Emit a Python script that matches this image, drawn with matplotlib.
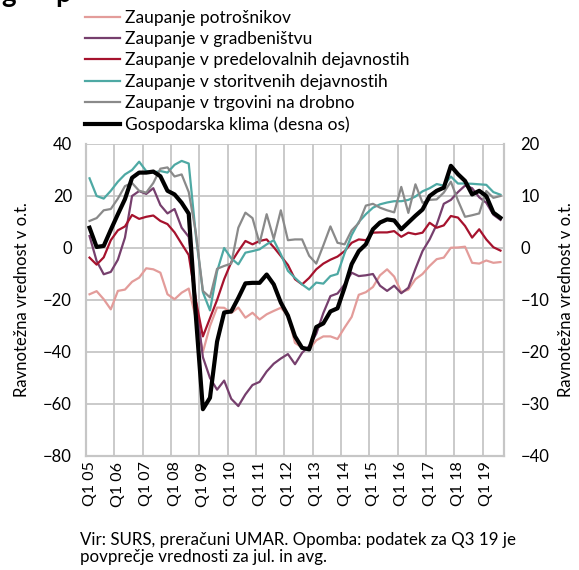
import numpy as np
import matplotlib
matplotlib.use("Agg")
import matplotlib.pyplot as plt

plt.rcParams['font.family'] = ['Lato', 'DejaVu Sans']

# quarterly data Q1 05 .. Q3 19
years = ["05", "06", "07", "08", "09", "10", "11", "12", "13", "14", "15", "16", "17", "18", "19"]
quarters = ["Q%d %s" % (q, y) for y in years for q in (1, 2, 3, 4)][:59]

potrosniki = [-17.8, -16.6, -19.7, -23.6, -16.5, -16, -13, -11.4, -7.8, -8.2,
              -9.5, -17.8, -19.7, -17.2, -15.6, -27, -40, -30, -22.9, -23,
              -25, -22.9, -26.8, -24.9, -27.5, -25.5, -24.2, -23, -26, -36.5,
              -38.3, -39, -35.5, -34, -34, -35, -30.6, -26.5, -18, -17,
              -15, -10.5, -8.2, -11, -17, -16, -12, -10, -6.9, -4.3,
              -3.7, 0.1, 0.2, 0.5, -5.7, -6, -4.8, -5.7, -5.4]
gradbenistvo = [4.6, -5, -10.1, -9.2, -4.5, 4, 20, 21.9, 20.8, 23,
                16.5, 13.3, 15, 7.8, 4.3, -20, -42, -50, -54.5, -51,
                -58, -60.8, -56.3, -52.7, -51.5, -47.5, -44.5, -42.5, -40.8, -44.7,
                -40.3, -37.7, -33, -25, -18.5, -17.5, -14, -9.5, -10.8, -10.5,
                -10, -14.5, -16.5, -14.5, -17.4, -15.3, -8, -1.2, 3.3, 9,
                17, 18.5, 21.5, 24, 23, 19.5, 17.4, 12.8, 10.8]
predelovalne = [-3.7, -6.4, -3.6, 3, 6.8, 8.3, 12.7, 11.2, 12, 12.5,
                10.4, 9.2, 6, 1.6, -2.7, -20, -34, -27, -20, -12,
                -5.5, -1.2, 2.7, 1.4, 2.7, 3.3, 0.3, -3.1, -6.5, -12,
                -14, -11.5, -8.2, -6, -4.5, -3.3, -1.2, 2, 3.3, 3,
                5.9, 6, 6, 6.5, 4.3, 5.9, 5.3, 5.9, 9.7, 7.8,
                8.7, 12.3, 11.7, 8.5, 4, 7.2, 3.3, 0.3, -1]
storitve = [26.8, 20, 19, 22, 25.5, 28.3, 30, 33.2, 29.6, 29,
            29.6, 29, 32, 33.5, 32.5, 5, -17, -24, -9, 0,
            -4, -6.3, -1.8, -1.2, -0.5, 1.4, 3, -2.4, -8.8, -11.5,
            -14, -16, -13.3, -13.7, -10.8, -10, -2, 5, 10, 13,
            15.5, 16.8, 17.5, 18, 18, 18.5, 19.8, 21.8, 23, 24.6,
            24, 27.5, 24.8, 24.8, 24.7, 24.5, 24.3, 21.5, 20.5]
trgovina = [10.4, 11.5, 14.5, 15, 19, 23.8, 25, 22, 21.3, 25,
            30.5, 31, 27.5, 28.3, 21.5, 6, -16.5, -19, -8, -6.9,
            -6, 7.8, 13.6, 11.5, 1.8, 13, 3.5, 14.5, 3, 3.3,
            3.3, -3, -6, 1, 8.3, 2, 1.4, 6.8, 9.6, 16.3,
            17, 15.5, 14.5, 13.7, 23.5, 13.5, 24.5, 17.4, 18.5, 18.7,
            21.3, 25.5, 18.3, 12, 12.6, 13.3, 21.9, 19.3, 20]
klima = [3.9, 0.2, 0.4, 3.5, 6.5, 9.4, 13.5, 14.5, 14.5, 14.7,
         13.8, 11, 10.3, 8.7, 6.6, -13, -31, -28.8, -18, -12.4,
         -12.2, -9.6, -6.8, -6.7, -6.7, -5.1, -7, -10.5, -13, -17,
         -19.2, -19.5, -15.2, -14.5, -12.2, -11.6, -7.6, -3.1, -0.6, 0.7,
         3.6, 4.9, 5.5, 5.3, 3.6, 4.9, 6.2, 7.4, 10, 11,
         11.6, 15.8, 14.2, 12.9, 10.3, 11, 10, 6.8, 5.8]

left_series = [
    ("Zaupanje potrošnikov", potrosniki, "#e39c9a"),
    ("Zaupanje v gradbeništvu", gradbenistvo, "#763f6d"),
    ("Zaupanje v predelovalnih dejavnostih", predelovalne, "#a6122d"),
    ("Zaupanje v storitvenih dejavnostih", storitve, "#4ea9a4"),
    ("Zaupanje v trgovini na drobno", trgovina, "#8a8a8a"),
]

x = np.arange(len(quarters)) + 0.5
grid_c = "#c6c6c6"

fig = plt.figure(figsize=(5.79, 5.70), dpi=100)
ax = fig.add_axes([86 / 579, 1 - 456 / 570, 418 / 579, 312 / 570])
ax2 = ax.twinx()

handles = []
for name, vals, col in left_series:
    h, = ax.plot(x, vals, color=col, lw=1.6, label=name)
    handles.append(h)
hk, = ax2.plot(x, klima, color="black", lw=3.0, label="Gospodarska klima (desna os)")
handles.append(hk)

ax.set_xlim(0, len(quarters))
ax.set_ylim(-80, 40)
ax2.set_ylim(-40, 20)
ax.set_yticks(np.arange(-80, 41, 20))
ax2.set_yticks(np.arange(-40, 21, 10))

# year gridlines between categories, labels on Q1
ax.set_xticks(np.arange(0, len(quarters) + 1, 4), minor=True)
ax.set_xticks(x[::4])
ax.set_xticklabels(quarters[::4], rotation=90, fontsize=11.5)
ax.grid(True, which="minor", axis="x", color=grid_c, lw=1.3)
ax.grid(True, which="major", axis="y", color=grid_c, lw=1.3)
ax.set_axisbelow(True)
ax.tick_params(axis="x", which="both", length=0, pad=4)
ax.tick_params(axis="y", length=0, pad=10, labelsize=12)
ax2.tick_params(axis="y", length=0, pad=12, labelsize=12)

for a in (ax, ax2):
    for s in a.spines.values():
        s.set_color(grid_c)
        s.set_linewidth(1.5)
    a.spines["top"].set_visible(False)

fig.text(22 / 579, 1 - 300 / 570, "Ravnotežna vrednost v o.t.", rotation=90,
         ha="center", va="center", fontsize=12)
fig.text(566 / 579, 1 - 300 / 570, "Ravnotežna vrednost v o.t.", rotation=90,
         ha="center", va="center", fontsize=12)

fig.legend(handles=handles, loc="upper left", bbox_to_anchor=(85 / 579, 1 - 10 / 570),
           frameon=False, fontsize=12.5, handlelength=2.0, handletextpad=0.3,
           labelspacing=0.3, borderpad=0, borderaxespad=0)

# cut-off title above the picture (only descenders visible, as in the source)
fig.text(1 / 579, 1 - 2 / 570, "g", fontsize=20, fontweight="bold", va="baseline")
fig.text(55 / 579, 1 - 2 / 570, "p", fontsize=20, fontweight="bold", va="baseline")

fig.text(80 / 579, 1 - 532 / 570,
         "Vir: SURS, preračuni UMAR. Opomba: podatek za Q3 19 je\npovprečje vrednosti za jul. in avg.",
         fontsize=12.2, va="top", ha="left", linespacing=1.1)

fig.savefig("out.png", dpi=100)
